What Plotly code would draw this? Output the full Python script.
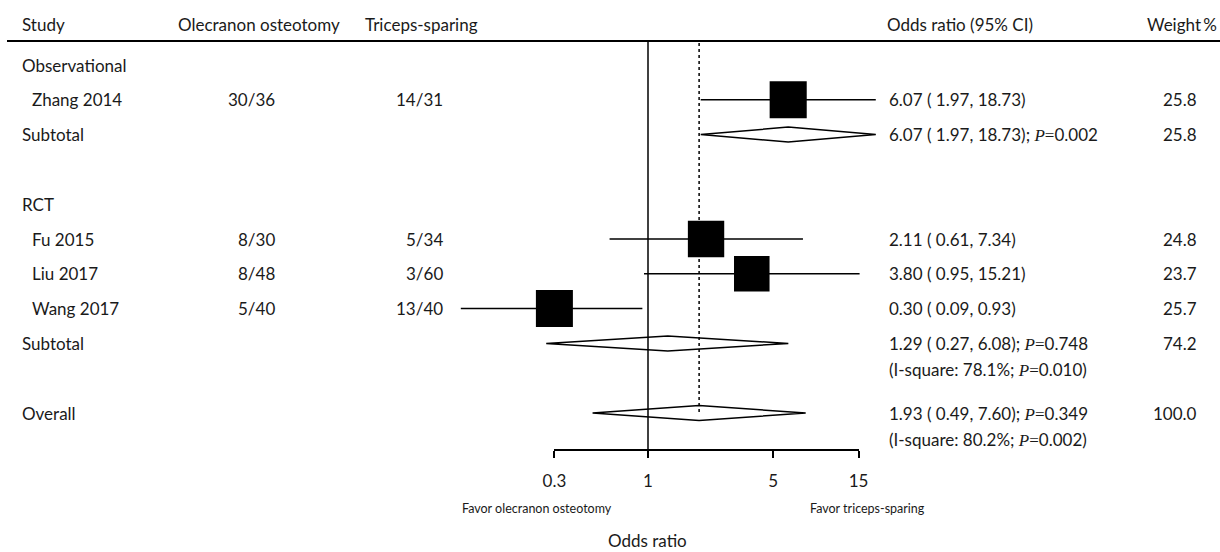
import math
import plotly.graph_objects as go

# ---- study-level data ----
study = ["Zhang 2014", "Fu 2015", "Liu 2017", "Wang 2017"]
design = ["Observational", "RCT", "RCT", "RCT"]
oo_events = ["30/36", "8/30", "8/48", "5/40"]
ts_events = ["14/31", "5/34", "3/60", "13/40"]
or_est = [6.07, 2.11, 3.80, 0.30]
or_lo = [1.97, 0.61, 0.95, 0.09]
or_hi = [18.73, 7.34, 15.21, 0.93]
weight = [25.8, 24.8, 23.7, 25.7]

# ---- subgroup pooled estimates ----
sub_group = ["Observational", "RCT"]
sub_est = [6.07, 1.29]
sub_lo = [1.97, 0.27]
sub_hi = [18.73, 6.08]
sub_p = ["0.002", "0.748"]
sub_weight = [25.8, 74.2]
sub_i2 = [None, "78.1%"]
sub_i2_p = [None, "0.010"]

# ---- overall pooled estimate ----
all_est = 1.93
all_lo = 0.49
all_hi = 7.60
all_p = "0.349"
all_weight = 100.0
all_i2 = "80.2%"
all_i2_p = "0.002"

tick_vals = [0.3, 1, 5, 15]
tick_text = ["0.3", "1", "5", "15"]

# ---- page geometry ----
W, H = 1220, 552
X_NULL = 648.0      # pixel of OR = 1
PX_DEC = 179.0      # pixels per decade of OR
ROW_TOP = 65.0      # pixel of first row
ROW_H = 34.8        # pixels per row
AXIS_Y = 450.0      # pixel of the OR axis line

FONT = "Lato"
FS = 17
INK = "#1a1a1a"
SERIF = "Liberation Serif"

x_range = [(0 - X_NULL) / PX_DEC, (W - X_NULL) / PX_DEC]
y_range = [(H - ROW_TOP) / ROW_H, (0 - ROW_TOP) / ROW_H]


def px_to_row(py):
    return (py - ROW_TOP) / ROW_H


def xp(px):
    return px / W


def yp(py):
    return 1 - py / H


def ital_p(val):
    return ('<span style="font-family:%s;font-style:italic">P</span>'
            '<span style="font-family:%s">=</span>%s' % (SERIF, SERIF, val))


def ci_text(e, lo, hi):
    return "%.2f ( %.2f, %.2f)" % (e, lo, hi)


fig = go.Figure()
ann = []


def text(x_px, row, s, anchor="left", size=FS):
    ann.append(dict(x=xp(x_px), xref="paper", y=row, yref="y", text=s,
                    showarrow=False, xanchor=anchor, yanchor="middle",
                    borderpad=0, font=dict(family=FONT, size=size, color=INK)))


def diamond(row, lo, e, hi, half=0.215):
    fig.add_trace(go.Scatter(
        x=[lo, e, hi, e, lo], y=[row, row - half, row, row + half, row],
        mode="lines", fill="toself", fillcolor="white",
        line=dict(color="black", width=1.5), hoverinfo="skip",
        showlegend=False))


# ---- assign rows ----
r = 0
study_rows = []
sub_rows = []
for gi, g in enumerate(sub_group):
    text(21, r, g)
    r += 1
    for i in range(len(study)):
        if design[i] == g:
            study_rows.append((i, r))
            r += 1
    sub_rows.append(r)
    r += 2
overall_row = r

# headers
hdr_row = px_to_row(24)
text(21, hdr_row, "Study")
text(177, hdr_row, "Olecranon osteotomy")
text(364, hdr_row, "Triceps-sparing")
text(886, hdr_row, "Odds ratio (95% CI)")
text(1218, hdr_row, "Weight\u2009%", anchor="right")

# study rows: confidence interval whiskers
for i, rr in study_rows:
    text(31, rr, study[i])
    text(276, rr, oo_events[i], anchor="right")
    text(444, rr, ts_events[i], anchor="right")
    text(888, rr, ci_text(or_est[i], or_lo[i], or_hi[i]))
    text(1198, rr, "%.1f" % weight[i], anchor="right")
    fig.add_trace(go.Scatter(
        x=[or_lo[i], or_hi[i]], y=[rr, rr], mode="lines",
        line=dict(color="black", width=1.5), hoverinfo="skip",
        showlegend=False))

# point estimates, square area proportional to weight
fig.add_trace(go.Scatter(
    x=[or_est[i] for i, _ in study_rows],
    y=[rr for _, rr in study_rows],
    mode="markers",
    marker=dict(symbol="square", color="black", opacity=1,
                size=[7.3 * math.sqrt(weight[i]) for i, _ in study_rows],
                line=dict(width=0)),
    hoverinfo="skip", showlegend=False))

# subgroup rows
for gi, rr in enumerate(sub_rows):
    text(21, rr, "Subtotal")
    text(888, rr, ci_text(sub_est[gi], sub_lo[gi], sub_hi[gi]) + "; " + ital_p(sub_p[gi]))
    text(1198, rr, "%.1f" % sub_weight[gi], anchor="right")
    if sub_i2[gi]:
        text(888, rr + 0.75, "(I-square: %s; %s)" % (sub_i2[gi], ital_p(sub_i2_p[gi])))
    diamond(rr, sub_lo[gi], sub_est[gi], sub_hi[gi])

# overall row
text(21, overall_row, "Overall")
text(888, overall_row, ci_text(all_est, all_lo, all_hi) + "; " + ital_p(all_p))
text(1198, overall_row, "%.1f" % all_weight, anchor="right")
text(888, overall_row + 0.75, "(I-square: %s; %s)" % (all_i2, ital_p(all_i2_p)))
diamond(overall_row, all_lo, all_est, all_hi)

# captions under the OR axis
ann.append(dict(x=xp(537), xref="paper", y=yp(508), yref="paper",
                text="Favor olecranon osteotomy", showarrow=False,
                xanchor="center", yanchor="middle", borderpad=0,
                font=dict(family=FONT, size=12.5, color=INK)))
ann.append(dict(x=xp(867), xref="paper", y=yp(508), yref="paper",
                text="Favor triceps-sparing", showarrow=False,
                xanchor="center", yanchor="middle", borderpad=0,
                font=dict(family=FONT, size=12.5, color=INK)))
ann.append(dict(x=xp(X_NULL), xref="paper", y=yp(540), yref="paper",
                text="Odds ratio", showarrow=False,
                xanchor="center", yanchor="middle", borderpad=0,
                font=dict(family=FONT, size=FS, color=INK)))

# invisible trace so the visible OR axis is rendered
fig.add_trace(go.Scatter(x=[tick_vals[0], tick_vals[-1]], y=[0, 0],
                         xaxis="x2", yaxis="y", mode="markers",
                         marker=dict(opacity=0), hoverinfo="skip",
                         showlegend=False))

shapes = [
    # header rule
    dict(type="line", xref="paper", yref="paper", x0=xp(7), x1=1,
         y0=yp(41), y1=yp(41), line=dict(color="black", width=2)),
    # line of no effect
    dict(type="line", xref="x", yref="paper", x0=1, x1=1,
         y0=yp(41), y1=yp(AXIS_Y), line=dict(color="black", width=1.5)),
    # overall estimate reference line
    dict(type="line", xref="x", yref="y", x0=all_est, x1=all_est,
         y0=px_to_row(43), y1=overall_row,
         line=dict(color="black", width=1.5, dash="dot")),
]

fig.update_layout(
    width=W, height=H,
    margin=dict(l=0, r=0, t=0, b=0, autoexpand=False),
    paper_bgcolor="white", plot_bgcolor="rgba(0,0,0,0)",
    showlegend=False,
    annotations=ann,
    shapes=shapes,
    xaxis=dict(type="log", range=x_range, domain=[0, 1], visible=False,
               fixedrange=True),
    xaxis2=dict(type="log",
                range=[math.log10(tick_vals[0]), math.log10(tick_vals[-1])],
                domain=[xp(X_NULL + PX_DEC * math.log10(tick_vals[0])),
                        xp(X_NULL + PX_DEC * math.log10(tick_vals[-1]))],
                anchor="free", position=yp(AXIS_Y),
                showline=True, linecolor="black", linewidth=1.5,
                ticks="outside", ticklen=7, tickwidth=1.5, tickcolor="black",
                tickvals=tick_vals, ticktext=tick_text,
                tickfont=dict(family=FONT, size=FS, color=INK),
                ticklabelstandoff=9,
                showgrid=False, zeroline=False, fixedrange=True),
    yaxis=dict(range=y_range, domain=[0, 1], visible=False, fixedrange=True),
)

fig.write_html("out.html")
